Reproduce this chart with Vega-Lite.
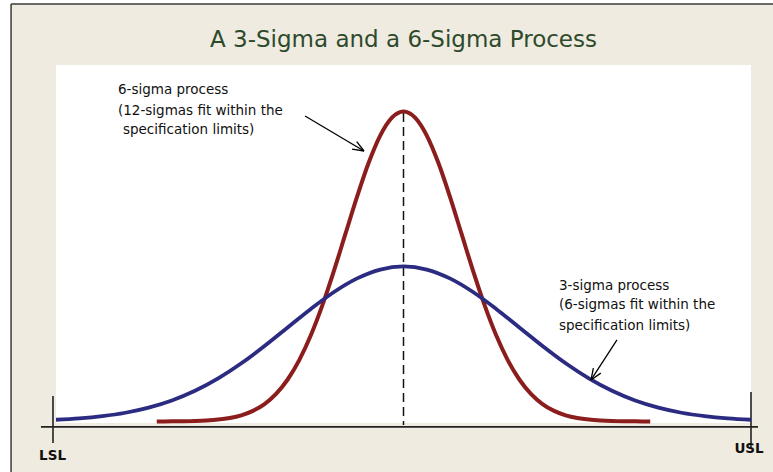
{
  "$schema": "https://vega.github.io/schema/vega-lite/v6.json",
  "width": 695,
  "height": 358,
  "autosize": "none",
  "padding": {"left": 56, "top": 65, "right": 22, "bottom": 49},
  "background": "#efebe0",
  "title": {
    "text": "A 3-Sigma and a 6-Sigma Process",
    "font": "DejaVu Sans",
    "fontSize": 23,
    "fontWeight": "normal",
    "color": "#2e4a2c",
    "anchor": "middle",
    "offset": -52
  },
  "config": {"view": {"stroke": null, "fill": "#ffffff"}},
  "datasets": {
    "curves": [
      {"series": "6-sigma", "x": -2.13, "y": 0.0002},
      {"series": "6-sigma", "x": -2.0, "y": 0.0007},
      {"series": "6-sigma", "x": -1.9, "y": 0.0015},
      {"series": "6-sigma", "x": -1.8, "y": 0.0031},
      {"series": "6-sigma", "x": -1.7, "y": 0.0062},
      {"series": "6-sigma", "x": -1.6, "y": 0.0119},
      {"series": "6-sigma", "x": -1.5, "y": 0.0222},
      {"series": "6-sigma", "x": -1.4, "y": 0.0397},
      {"series": "6-sigma", "x": -1.3, "y": 0.0681},
      {"series": "6-sigma", "x": -1.2, "y": 0.1123},
      {"series": "6-sigma", "x": -1.1, "y": 0.1778},
      {"series": "6-sigma", "x": -1.0, "y": 0.2707},
      {"series": "6-sigma", "x": -0.9, "y": 0.3958},
      {"series": "6-sigma", "x": -0.8, "y": 0.5561},
      {"series": "6-sigma", "x": -0.7, "y": 0.7506},
      {"series": "6-sigma", "x": -0.6, "y": 0.9735},
      {"series": "6-sigma", "x": -0.5, "y": 1.2131},
      {"series": "6-sigma", "x": -0.4, "y": 1.4523},
      {"series": "6-sigma", "x": -0.3, "y": 1.6705},
      {"series": "6-sigma", "x": -0.2, "y": 1.8462},
      {"series": "6-sigma", "x": -0.1, "y": 1.9604},
      {"series": "6-sigma", "x": 0.0, "y": 2.0},
      {"series": "6-sigma", "x": 0.1, "y": 1.9604},
      {"series": "6-sigma", "x": 0.2, "y": 1.8462},
      {"series": "6-sigma", "x": 0.3, "y": 1.6705},
      {"series": "6-sigma", "x": 0.4, "y": 1.4523},
      {"series": "6-sigma", "x": 0.5, "y": 1.2131},
      {"series": "6-sigma", "x": 0.6, "y": 0.9735},
      {"series": "6-sigma", "x": 0.7, "y": 0.7506},
      {"series": "6-sigma", "x": 0.8, "y": 0.5561},
      {"series": "6-sigma", "x": 0.9, "y": 0.3958},
      {"series": "6-sigma", "x": 1.0, "y": 0.2707},
      {"series": "6-sigma", "x": 1.1, "y": 0.1778},
      {"series": "6-sigma", "x": 1.2, "y": 0.1123},
      {"series": "6-sigma", "x": 1.3, "y": 0.0681},
      {"series": "6-sigma", "x": 1.4, "y": 0.0397},
      {"series": "6-sigma", "x": 1.5, "y": 0.0222},
      {"series": "6-sigma", "x": 1.6, "y": 0.0119},
      {"series": "6-sigma", "x": 1.7, "y": 0.0062},
      {"series": "6-sigma", "x": 1.8, "y": 0.0031},
      {"series": "6-sigma", "x": 1.9, "y": 0.0015},
      {"series": "6-sigma", "x": 2.0, "y": 0.0007},
      {"series": "6-sigma", "x": 2.13, "y": 0.0002},
      {"series": "3-sigma", "x": -3.0, "y": 0.0111},
      {"series": "3-sigma", "x": -2.8, "y": 0.0198},
      {"series": "3-sigma", "x": -2.6, "y": 0.0341},
      {"series": "3-sigma", "x": -2.4, "y": 0.0561},
      {"series": "3-sigma", "x": -2.2, "y": 0.0889},
      {"series": "3-sigma", "x": -2.0, "y": 0.1353},
      {"series": "3-sigma", "x": -1.8, "y": 0.1979},
      {"series": "3-sigma", "x": -1.6, "y": 0.278},
      {"series": "3-sigma", "x": -1.4, "y": 0.3753},
      {"series": "3-sigma", "x": -1.2, "y": 0.4868},
      {"series": "3-sigma", "x": -1.0, "y": 0.6065},
      {"series": "3-sigma", "x": -0.8, "y": 0.7261},
      {"series": "3-sigma", "x": -0.6, "y": 0.8353},
      {"series": "3-sigma", "x": -0.4, "y": 0.9231},
      {"series": "3-sigma", "x": -0.2, "y": 0.9802},
      {"series": "3-sigma", "x": 0.0, "y": 1.0},
      {"series": "3-sigma", "x": 0.2, "y": 0.9802},
      {"series": "3-sigma", "x": 0.4, "y": 0.9231},
      {"series": "3-sigma", "x": 0.6, "y": 0.8353},
      {"series": "3-sigma", "x": 0.8, "y": 0.7261},
      {"series": "3-sigma", "x": 1.0, "y": 0.6065},
      {"series": "3-sigma", "x": 1.2, "y": 0.4868},
      {"series": "3-sigma", "x": 1.4, "y": 0.3753},
      {"series": "3-sigma", "x": 1.6, "y": 0.278},
      {"series": "3-sigma", "x": 1.8, "y": 0.1979},
      {"series": "3-sigma", "x": 2.0, "y": 0.1353},
      {"series": "3-sigma", "x": 2.2, "y": 0.0889},
      {"series": "3-sigma", "x": 2.4, "y": 0.0561},
      {"series": "3-sigma", "x": 2.6, "y": 0.0341},
      {"series": "3-sigma", "x": 2.8, "y": 0.0198},
      {"series": "3-sigma", "x": 3.0, "y": 0.0111}
    ],
    "frame": [
      {"x": -3.483, "x2": -3.388, "y": -0.33, "y2": 2.72},
      {"x": -3.483, "x2": 3.2, "y": 2.694, "y2": 2.72}
    ],
    "border": [
      {"x": -3.388, "y": 2.694, "x2": 3.2, "y2": 2.694},
      {"x": -3.388, "y": 2.694, "x2": -3.388, "y2": -0.33}
    ],
    "axisLines": [
      {"x": -3.13, "y": -0.035, "x2": 3.06, "y2": -0.035},
      {"x": -3.026, "y": 0.165, "x2": -3.026, "y2": -0.139},
      {"x": 3.0, "y": 0.19, "x2": 3.0, "y2": -0.165}
    ],
    "center": [
      {"x": 0.0, "y": 1.99, "x2": 0.0, "y2": -0.023}
    ],
    "arrows": [
      {"x": -0.85, "y": 1.971, "x2": -0.341, "y2": 1.745},
      {"x": -0.404, "y": 1.806, "x2": -0.341, "y2": 1.745},
      {"x": -0.444, "y": 1.757, "x2": -0.341, "y2": 1.745},
      {"x": 1.843, "y": 0.526, "x2": 1.619, "y2": 0.268},
      {"x": 1.703, "y": 0.312, "x2": 1.619, "y2": 0.268},
      {"x": 1.639, "y": 0.344, "x2": 1.619, "y2": 0.268}
    ],
    "notes": [
      {"text": "6-sigma process", "x": -2.465, "y": 2.139},
      {"text": "(12-sigmas fit within the", "x": -2.465, "y": 2.003},
      {"text": "specification limits)", "x": -2.422, "y": 1.881},
      {"text": "3-sigma process", "x": 1.342, "y": 0.874},
      {"text": "(6-sigmas fit within the", "x": 1.342, "y": 0.752},
      {"text": "specification limits)", "x": 1.342, "y": 0.616}
    ],
    "limits": [
      {"text": "LSL", "x": -3.03, "y": -0.226},
      {"text": "USL", "x": 2.983, "y": -0.177}
    ]
  },
  "layer": [
    {
      "data": {"name": "frame"},
      "mark": {"type": "rect", "fill": "#ffffff", "clip": false},
      "encoding": {
        "x": {"field": "x", "type": "quantitative", "scale": {"domain": [-3, 3], "nice": false, "zero": false}, "axis": null},
        "x2": {"field": "x2"},
        "y": {"field": "y", "type": "quantitative", "scale": {"domain": [-0.01, 2.3], "nice": false, "zero": false}, "axis": null},
        "y2": {"field": "y2"}
      }
    },
    {
      "data": {"name": "border"},
      "mark": {"type": "rule", "color": "#3a3a3a", "strokeWidth": 1.5},
      "encoding": {
        "x": {"field": "x", "type": "quantitative"},
        "x2": {"field": "x2"},
        "y": {"field": "y", "type": "quantitative"},
        "y2": {"field": "y2"}
      }
    },
    {
      "data": {"name": "axisLines"},
      "mark": {"type": "rule", "color": "#222222", "strokeWidth": 1.6},
      "encoding": {
        "x": {"field": "x", "type": "quantitative"},
        "x2": {"field": "x2"},
        "y": {"field": "y", "type": "quantitative"},
        "y2": {"field": "y2"}
      }
    },
    {
      "data": {"name": "center"},
      "mark": {"type": "rule", "color": "#111111", "strokeWidth": 1.5, "strokeDash": [9, 5]},
      "encoding": {
        "x": {"field": "x", "type": "quantitative"},
        "x2": {"field": "x2"},
        "y": {"field": "y", "type": "quantitative"},
        "y2": {"field": "y2"}
      }
    },
    {
      "data": {"name": "curves"},
      "transform": [{"filter": "datum.series === '6-sigma'"}],
      "mark": {"type": "line", "color": "#8b1d1d", "strokeWidth": 4, "interpolate": "monotone"},
      "encoding": {
        "x": {"field": "x", "type": "quantitative"},
        "y": {"field": "y", "type": "quantitative"}
      }
    },
    {
      "data": {"name": "curves"},
      "transform": [{"filter": "datum.series === '3-sigma'"}],
      "mark": {"type": "line", "color": "#2b2b82", "strokeWidth": 3.8, "interpolate": "monotone"},
      "encoding": {
        "x": {"field": "x", "type": "quantitative"},
        "y": {"field": "y", "type": "quantitative"}
      }
    },
    {
      "data": {"name": "arrows"},
      "mark": {"type": "rule", "color": "#000000", "strokeWidth": 1.3},
      "encoding": {
        "x": {"field": "x", "type": "quantitative"},
        "x2": {"field": "x2"},
        "y": {"field": "y", "type": "quantitative"},
        "y2": {"field": "y2"}
      }
    },
    {
      "data": {"name": "notes"},
      "mark": {"type": "text", "align": "left", "baseline": "middle", "font": "DejaVu Sans", "fontSize": 13.5, "color": "#111111"},
      "encoding": {
        "x": {"field": "x", "type": "quantitative"},
        "y": {"field": "y", "type": "quantitative"},
        "text": {"field": "text"}
      }
    },
    {
      "data": {"name": "limits"},
      "mark": {"type": "text", "align": "center", "baseline": "middle", "font": "DejaVu Sans", "fontSize": 13.5, "fontWeight": "bold", "color": "#111111"},
      "encoding": {
        "x": {"field": "x", "type": "quantitative"},
        "y": {"field": "y", "type": "quantitative"},
        "text": {"field": "text"}
      }
    }
  ]
}
